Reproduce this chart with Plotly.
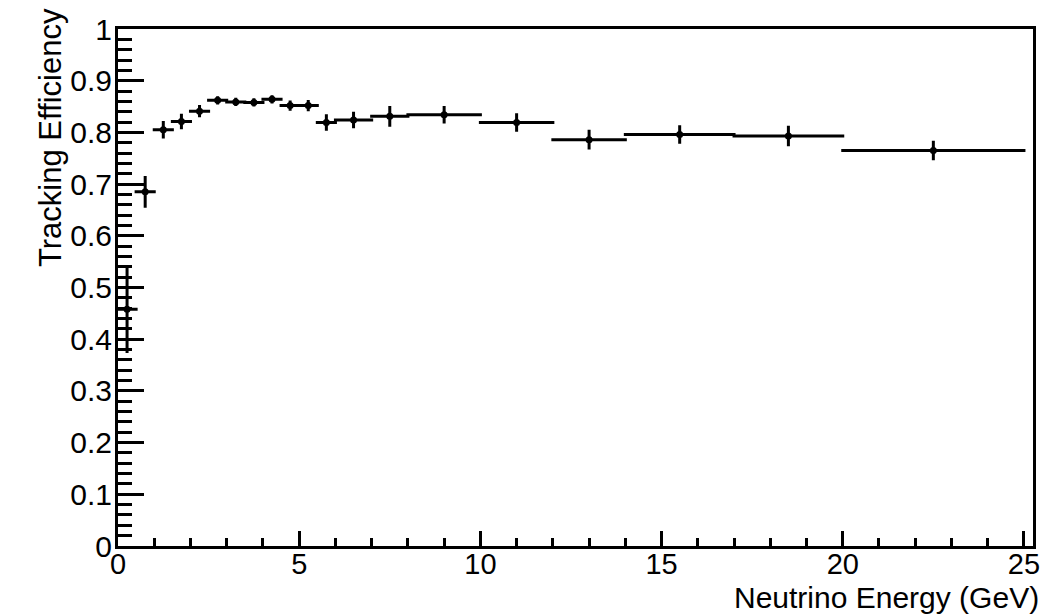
import plotly.graph_objects as go

# Bin edges (GeV)
bin_low = [0, 0.5, 1, 1.5, 2, 2.5, 3, 3.5, 4, 4.5, 5, 5.5, 6, 7, 8, 10, 12, 14, 17, 20]
bin_high = [0.5, 1, 1.5, 2, 2.5, 3, 3.5, 4, 4.5, 5, 5.5, 6, 7, 8, 10, 12, 14, 17, 20, 25]
# Tracking efficiency and its uncertainty
efficiency = [0.458, 0.685, 0.805, 0.821, 0.841, 0.862, 0.859, 0.858, 0.864, 0.852,
              0.852, 0.819, 0.824, 0.831, 0.834, 0.819, 0.786, 0.796, 0.793, 0.765]
eff_error = [0.082, 0.028, 0.014, 0.012, 0.009, 0.005, 0.005, 0.005, 0.005, 0.007,
             0.008, 0.013, 0.013, 0.017, 0.014, 0.015, 0.016, 0.015, 0.017, 0.016]

x_center = [(a + b) / 2 for a, b in zip(bin_low, bin_high)]
x_half = [(b - a) / 2 for a, b in zip(bin_low, bin_high)]

FONT = "Liberation Sans, Arial, Helvetica, sans-serif"

fig = go.Figure()
fig.add_trace(go.Scatter(
    x=x_center, y=efficiency, mode="markers",
    marker=dict(symbol="circle", size=7, color="black"),
    error_x=dict(type="data", array=x_half, symmetric=True, color="black", thickness=3, width=1.5),
    error_y=dict(type="data", array=eff_error, symmetric=True, color="black", thickness=3, width=1.5),
    showlegend=False,
))

W, H = 1052, 614
ml, mr, mt, mb = 118, 15, 18, 68
pw, ph = W - ml - mr, H - mt - mb

fig.update_layout(
    width=W, height=H, autosize=False,
    margin=dict(l=ml, r=mr, t=mt, b=mb, pad=0),
    paper_bgcolor="white", plot_bgcolor="white",
    font=dict(family=FONT, color="black", size=30),
    xaxis=dict(
        range=[0, 25.25], showgrid=False, zeroline=False,
        showline=True, linecolor="black", linewidth=3, mirror=True,
        ticks="inside", ticklen=15, tickwidth=3, tickcolor="black",
        tick0=0, dtick=5, tickfont=dict(size=29, family=FONT, color="black"),
        ticklabelstandoff=-10,
        minor=dict(ticks="inside", dtick=1, ticklen=8, tickwidth=3, tickcolor="black"),
    ),
    yaxis=dict(
        range=[0, 1], showgrid=False, zeroline=False,
        showline=True, linecolor="black", linewidth=3, mirror=True,
        ticks="inside", ticklen=26, tickwidth=3, tickcolor="black",
        tick0=0, dtick=0.1, tickfont=dict(size=30, family=FONT, color="black"),
        ticklabelstandoff=-3,
        minor=dict(ticks="inside", dtick=0.02, ticklen=14, tickwidth=3, tickcolor="black"),
    ),
    annotations=[
        dict(text="Neutrino Energy (GeV)", xref="paper", yref="paper",
             x=(1037 - ml) / pw, y=(546 - 593) / ph, xanchor="right", yanchor="middle",
             xshift=8, yshift=-5, showarrow=False,
             font=dict(size=30, family=FONT, color="black")),
        dict(text="Tracking Efficiency", xref="paper", yref="paper",
             x=(50 - ml) / pw, y=(546 - 7) / ph, xanchor="center", yanchor="top",
             yshift=12, textangle=-90, showarrow=False,
             font=dict(size=31, family=FONT, color="black")),
    ],
)

fig.write_html("out.html")
